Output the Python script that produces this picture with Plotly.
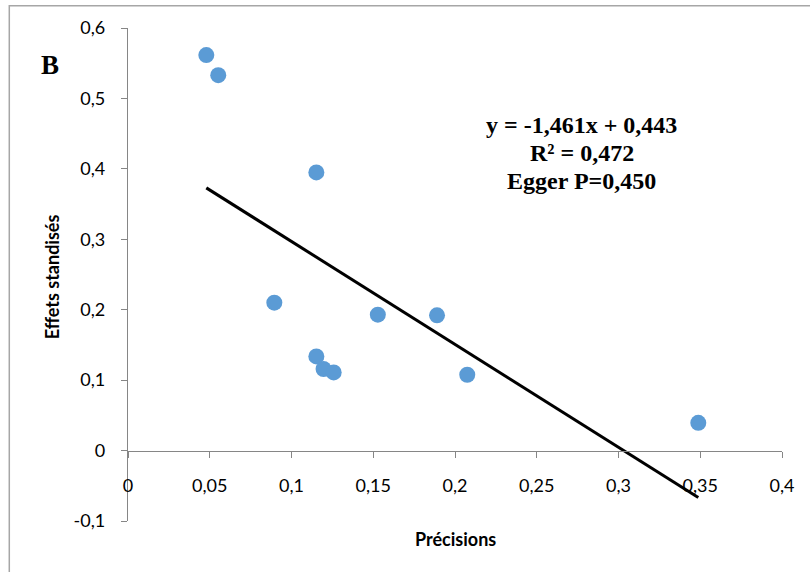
import plotly.graph_objects as go

# ---- data ----
precisions = [0.0479, 0.0552, 0.1152, 0.0895, 0.1528, 0.1890, 0.1152, 0.1196, 0.1258, 0.2075, 0.3488]
effets = [0.5615, 0.5330, 0.3950, 0.2100, 0.1930, 0.1920, 0.1337, 0.1158, 0.1110, 0.1077, 0.0394]
slope = -1.461
intercept = 0.443
x_tickvals = [0, 0.05, 0.1, 0.15, 0.2, 0.25, 0.3, 0.35, 0.4]
x_ticktext = ["0", "0,05", "0,1", "0,15", "0,2", "0,25", "0,3", "0,35", "0,4"]
y_tickvals = [-0.1, 0, 0.1, 0.2, 0.3, 0.4, 0.5, 0.6]
y_ticktext = ["-0,1", "0", "0,1", "0,2", "0,3", "0,4", "0,5", "0,6"]
eq_lines = ["y = -1,461x + 0,443", "R² = 0,472", "Egger P=0,450"]
panel_label = "B"
x_title = "Précisions"
y_title = "Effets standisés"

W, H = 810, 572
L, R, T, B = 127.7, 28.3, 28.3, 51.3
PW, PH = W - L - R, H - T - B

def px(x):
    return (x - L) / PW

def py(y):
    return 1 - (y - T) / PH

x_line = [min(precisions), max(precisions)]
y_line = [slope * v + intercept for v in x_line]

fig = go.Figure()
fig.add_trace(go.Scatter(x=x_line, y=y_line, mode="lines",
                         line=dict(color="black", width=3), showlegend=False))
fig.add_trace(go.Scatter(x=precisions, y=effets, mode="markers",
                         marker=dict(color="#5B9BD5", size=16, line=dict(width=0)),
                         showlegend=False))

axis_grey = "#868686"
tick_font = dict(family="Lato, Open Sans, sans-serif", size=18, color="#000000")
title_font = dict(family="Lato, Open Sans, sans-serif", size=18, color="#000000")

fig.update_layout(
    width=W, height=H,
    margin=dict(l=L, r=R, t=T, b=B, pad=0),
    paper_bgcolor="white", plot_bgcolor="white",
    xaxis=dict(range=[0, 0.4], tickvals=x_tickvals, ticktext=x_ticktext,
               showgrid=False, zeroline=False, showline=True, linecolor=axis_grey,
               linewidth=1.3, ticks="outside", ticklen=6, tickcolor=axis_grey,
               tickwidth=1.3, tickfont=tick_font, anchor="free", position=1/7,
               ticklabelstandoff=13),
    yaxis=dict(range=[-0.1, 0.6], tickvals=y_tickvals, ticktext=y_ticktext,
               showgrid=False, zeroline=False, showline=True, linecolor=axis_grey,
               linewidth=1.3, ticks="outside", ticklen=6, tickcolor=axis_grey,
               tickwidth=1.3, tickfont=tick_font, ticklabelstandoff=12),
)

ann = []
ann.append(dict(text="<b>%s</b>" % x_title, xref="paper", yref="paper", x=px(455.5), y=py(539),
                showarrow=False, font=title_font, xanchor="center", yanchor="middle"))
ann.append(dict(text="<b>%s</b>" % y_title, xref="paper", yref="paper", x=px(51.5), y=py(276.5),
                showarrow=False, font=title_font, textangle=-90,
                xanchor="center", yanchor="middle"))
ann.append(dict(text="<b>%s</b>" % panel_label, xref="paper", yref="paper",
                x=px(50), y=py(65), showarrow=False,
                font=dict(family="Liberation Serif, Times New Roman, serif", size=27, color="black"),
                xanchor="center", yanchor="middle"))
for i, t in enumerate(eq_lines):
    ann.append(dict(text="<b>%s</b>" % t, xref="paper", yref="paper",
                    x=px(581.5), y=py(125 + 28 * i), showarrow=False,
                    font=dict(family="Liberation Serif, Times New Roman, serif", size=24, color="black"),
                    xanchor="center", yanchor="middle"))
fig.update_layout(annotations=ann)

# outer chart frame (right and bottom edges outside the view)
fig.add_shape(type="rect", xref="paper", yref="paper",
              x0=px(9), x1=px(830), y0=py(6), y1=py(600),
              line=dict(color="#A6A6A6", width=1.5), fillcolor="rgba(0,0,0,0)", layer="below")

fig.write_html("out.html", config={"displayModeBar": False},
               post_script="document.body.style.margin='0';")
